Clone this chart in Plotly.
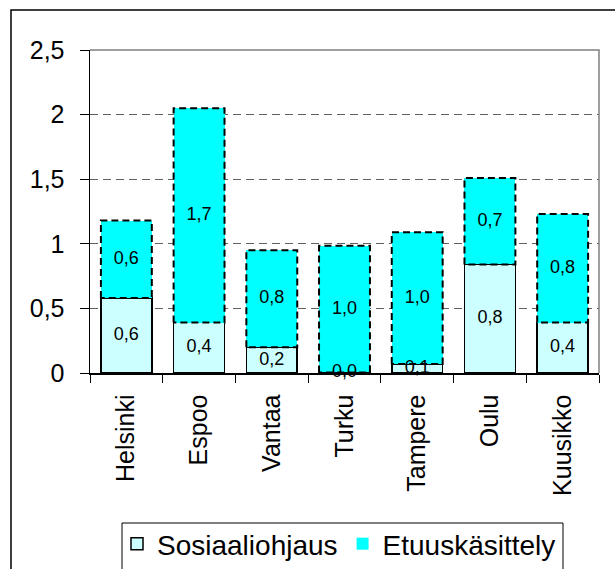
import plotly.graph_objects as go

categories = ["Helsinki", "Espoo", "Vantaa", "Turku", "Tampere", "Oulu", "Kuusikko"]
sosiaaliohjaus = [0.58, 0.39, 0.20, 0.004, 0.07, 0.84, 0.39]
etuuskasittely = [0.60, 1.66, 0.75, 0.98, 1.02, 0.67, 0.84]
y_ticks = [0, 0.5, 1, 1.5, 2, 2.5]
y_tick_labels = ["0", "0,5", "1", "1,5", "2", "2,5"]

FONT = "Liberation Sans, Arial, sans-serif"
BAR_W = 0.7
xs = list(range(len(categories)))

def fi(v):
    return f"{v:.1f}".replace(".", ",")

fig = go.Figure()

fig.add_trace(go.Bar(
    x=xs, y=sosiaaliohjaus, width=BAR_W, name="Sosiaaliohjaus",
    marker=dict(color="#CCFFFF", line=dict(color="black", width=1.5)),
    hoverinfo="skip",
))
fig.add_trace(go.Bar(
    x=xs, y=etuuskasittely, width=BAR_W, name="Etuuskäsittely",
    marker=dict(color="#00FFFF", line=dict(color="#00FFFF", width=0)),
    hoverinfo="skip",
))

# dashed outlines of the Etuuskäsittely segments
for i, (s, e) in enumerate(zip(sosiaaliohjaus, etuuskasittely)):
    x0, x1 = i - BAR_W / 2, i + BAR_W / 2
    fig.add_trace(go.Scatter(
        x=[x0, x0, x1, x1, x0], y=[s, s + e, s + e, s, s],
        mode="lines", line=dict(color="black", width=2, dash="7px,4px"),
        showlegend=False, hoverinfo="skip",
    ))

# value labels
lab_x, lab_y, lab_t = [], [], []
for i, (s, e) in enumerate(zip(sosiaaliohjaus, etuuskasittely)):
    lab_x += [i, i]
    lab_y += [s / 2, s + e / 2]
    lab_t += [fi(s), fi(e)]
fig.add_trace(go.Scatter(
    x=lab_x, y=lab_y, text=lab_t, mode="text",
    textfont=dict(size=18, color="black", family=FONT),
    showlegend=False, hoverinfo="skip", cliponaxis=False,
))

# plot geometry (pixels) for paper conversions
L, R, T, B = 90, 599, 50, 373
def px_x(p):
    return (p - L) / (R - L)
def px_y(p):
    return (B - p) / (B - T)

fig.update_layout(
    width=615, height=569,
    margin=dict(l=L, r=615 - R, t=T, b=569 - B, autoexpand=False),
    paper_bgcolor="white", plot_bgcolor="white",
    barmode="stack", bargap=0.3,
    font=dict(family=FONT, color="black"),
    showlegend=True,
    legend=dict(
        orientation="h", x=px_x(339), xanchor="center",
        y=px_y(519), yanchor="top",
        font=dict(size=28, family=FONT, color="black"),
        bgcolor="rgba(0,0,0,0)", borderwidth=0,
        traceorder="normal",
    ),
    xaxis=dict(
        range=[-0.5, len(categories) - 0.5],
        tickmode="array", tickvals=xs, ticktext=categories,
        tickangle=-90, ticks="", showgrid=False, zeroline=False,
        showline=True, linecolor="black", linewidth=1.5,
        tickfont=dict(size=25, family=FONT, color="black"),
        ticklabelstandoff=10, automargin=False,
        minor=dict(tickmode="array", tickvals=[i - 0.5 for i in range(len(categories) + 1)],
                   ticks="outside", ticklen=8, tickcolor="black", tickwidth=1),
        fixedrange=True,
    ),
    yaxis=dict(
        range=[0, 2.5], tickmode="array", tickvals=y_ticks, ticktext=y_tick_labels,
        ticks="outside", ticklen=9, tickcolor="black", tickwidth=1,
        showgrid=True, gridcolor="#606060", gridwidth=1, griddash="8px,5px",
        zeroline=False, showline=True, linecolor="black", linewidth=1.5,
        tickfont=dict(size=25, family=FONT, color="black"),
        ticklabelstandoff=10, automargin=False,
        fixedrange=True,
    ),
    shapes=[
        # gray plot-area border (top and right)
        dict(type="path", xref="paper", yref="paper", path="M 0,1 L 1,1 L 1,0",
             line=dict(color="#808080", width=1.5), layer="above"),
        # outer chart border
        dict(type="rect", xref="paper", yref="paper",
             x0=px_x(11), x1=px_x(640), y0=px_y(620), y1=px_y(10),
             line=dict(color="black", width=1.5), layer="below"),
        # legend box
        dict(type="rect", xref="paper", yref="paper",
             x0=px_x(122), x1=px_x(563), y0=px_y(620), y1=px_y(523),
             line=dict(color="black", width=1), layer="below"),
    ],
)

fig.write_html(
    "out.html",
    config={"displayModeBar": False, "staticPlot": True},
    post_script="document.body.style.margin='0';document.body.style.overflow='hidden';",
)
